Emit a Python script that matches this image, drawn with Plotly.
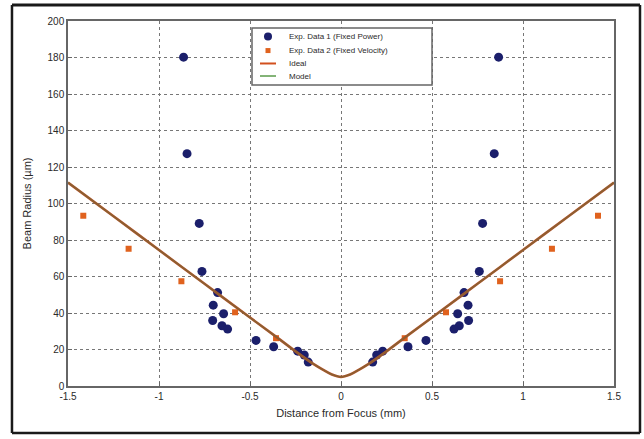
import plotly.graph_objects as go

# Exp. Data 1 (Fixed Power)
exp1_x = [-0.865, -0.846, -0.779, -0.764, -0.678, -0.702, -0.645, -0.705, -0.654, -0.623,
          -0.467, -0.370, -0.238, -0.202, -0.180,
          0.866, 0.842, 0.778, 0.760, 0.676, 0.698, 0.641, 0.701, 0.650, 0.621,
          0.467, 0.368, 0.229, 0.196, 0.174]
exp1_y = [180.2, 127.3, 89.1, 62.8, 51.2, 44.3, 39.6, 35.9, 33.0, 31.2,
          25.0, 21.5, 19.1, 17.0, 13.1,
          180.2, 127.3, 89.1, 62.8, 51.2, 44.3, 39.6, 35.9, 33.0, 31.2,
          25.0, 21.5, 19.1, 17.0, 13.1]

# Exp. Data 2 (Fixed Velocity)
exp2_x = [-1.416, -1.167, -0.877, -0.582, -0.357, 0.350, 0.577, 0.874, 1.159, 1.412]
exp2_y = [93.3, 75.2, 57.4, 40.4, 26.2, 26.2, 40.4, 57.4, 75.2, 93.3]

# Ideal / Model curves
curve_x = [-1.5, -1.25, -1.0, -0.75, -0.5, -0.35, -0.25, -0.15, -0.1, -0.05, 0.0,
           0.05, 0.1, 0.15, 0.25, 0.35, 0.5, 0.75, 1.0, 1.25, 1.5]
ideal_y = [111.5, 93.0, 74.5, 56.0, 37.5, 26.5, 19.0, 12.0, 9.0, 6.3, 5.0,
           6.3, 9.0, 12.0, 19.0, 26.5, 37.5, 56.0, 74.5, 93.0, 111.5]
model_y = [111.5, 93.0, 74.5, 56.0, 37.5, 26.5, 19.0, 12.0, 9.0, 6.3, 5.0,
           6.3, 9.0, 12.0, 19.0, 26.5, 37.5, 56.0, 74.5, 93.0, 111.5]

x_ticks = [-1.5, -1, -0.5, 0, 0.5, 1, 1.5]
x_tick_labels = ["-1.5", "-1", "-0.5", "0", "0.5", "1", "1.5"]
y_ticks = [0, 20, 40, 60, 80, 100, 120, 140, 160, 180, 200]

legend_labels = ["Exp. Data 1 (Fixed Power)", "Exp. Data 2 (Fixed Velocity)", "Ideal", "Model"]

BLUE = "#1b1f6b"
ORANGE = "#e0621e"
RED = "#b5502a"
GREEN = "#4d7a3a"

fig = go.Figure()
fig.add_trace(go.Scatter(x=exp1_x, y=exp1_y, mode="markers", name=legend_labels[0],
                         marker=dict(symbol="circle", size=9, color=BLUE)))
fig.add_trace(go.Scatter(x=exp2_x, y=exp2_y, mode="markers", name=legend_labels[1],
                         marker=dict(symbol="square", size=6, color=ORANGE)))
fig.add_trace(go.Scatter(x=curve_x, y=ideal_y, mode="lines", name=legend_labels[2], line_shape="spline",
                         line=dict(color=RED, width=2.6)))
fig.add_trace(go.Scatter(x=curve_x, y=model_y, mode="lines", name=legend_labels[3], line_shape="spline",
                         line=dict(color=GREEN, width=1.6), opacity=0.4))

axis_common = dict(showline=True, linecolor="#666666", linewidth=1.5, mirror=True,
                   ticks="inside", ticklen=4, tickcolor="#666666",
                   showgrid=True, gridcolor="#777777", griddash="dot", gridwidth=1,
                   zeroline=False, automargin=False, tickfont=dict(size=10, color="#2a2a2a"))

fig.update_xaxes(range=[-1.5, 1.5], tickvals=x_ticks, ticktext=x_tick_labels,
                 title=dict(text="Distance from Focus (mm)", font=dict(size=11, color="#2a2a2a"), standoff=9),
                 **axis_common)
fig.update_yaxes(range=[0, 200], tickvals=y_ticks,
                 title=dict(text="Beam Radius (µm)", font=dict(size=11, color="#2a2a2a"), standoff=14),
                 **axis_common)

# Manual legend (compact, like the reference)
W, H = 546.0, 365.0
lx0, lx1, ly0, ly1 = 0.337, 0.6667, 0.8247, 0.981
rows = [0.9575, 0.919, 0.8836, 0.8493]
mx = 0.3663
tx = 0.4011
FX0, FX1, FY0, FY1 = -0.1026, 1.0476, -0.129, 1.0435
shapes = [
    dict(type="rect", xref="paper", yref="paper", x0=lx0, x1=lx1, y0=ly0, y1=ly1,
         fillcolor="white", line=dict(color="#666666", width=1.5), layer="above"),
    dict(type="circle", xref="paper", yref="paper", x0=mx - 4 / W, x1=mx + 4 / W,
         y0=rows[0] - 4 / H, y1=rows[0] + 4 / H, fillcolor=BLUE, line=dict(width=0), layer="above"),
    dict(type="rect", xref="paper", yref="paper", x0=mx - 2.5 / W, x1=mx + 2.5 / W,
         y0=rows[1] - 2.5 / H, y1=rows[1] + 2.5 / H, fillcolor=ORANGE, line=dict(width=0), layer="above"),
    dict(type="line", xref="paper", yref="paper", x0=mx - 8 / W, x1=mx + 8 / W,
         y0=rows[2], y1=rows[2], line=dict(color="#d2501e", width=2), layer="above"),
    dict(type="line", xref="paper", yref="paper", x0=mx - 8 / W, x1=mx + 8 / W,
         y0=rows[3], y1=rows[3], line=dict(color="#5a9a4a", width=1.5), layer="above"),
    # top edge of the outer frame as a thin filled band
    dict(type="rect", xref="paper", yref="paper", x0=FX0, x1=FX1,
         y0=FY1 - 1.5 / H, y1=FY1 + 1.5 / H, fillcolor="#1a1a1a", line=dict(width=0), layer="above"),
]
# remaining edges of the outer frame
for (ax0, ay0, ax1, ay1) in [(FX0, FY0, FX1, FY0), (FX0, FY0, FX0, FY1), (FX1, FY0, FX1, FY1)]:
    shapes.append(dict(type="line", xref="paper", yref="paper", x0=ax0, y0=ay0, x1=ax1, y1=ay1,
                       line=dict(color="#1a1a1a", width=2.5), layer="above"))

annotations = [dict(xref="paper", yref="paper", x=tx, y=ry, text=lab, showarrow=False,
                    xanchor="left", yanchor="middle", font=dict(size=8, color="#2a2a2a"))
               for ry, lab in zip(rows, legend_labels)]

fig.update_layout(
    width=644, height=439,
    margin=dict(l=68, r=30, t=21, b=53, autoexpand=False),
    plot_bgcolor="white", paper_bgcolor="white",
    font=dict(family="Liberation Sans, Arial, sans-serif", color="#2a2a2a"),
    showlegend=False,
    shapes=shapes,
    annotations=annotations,
)

fig.write_html("out.html", config={"displayModeBar": False},
               post_script="document.body.style.margin='0';")
